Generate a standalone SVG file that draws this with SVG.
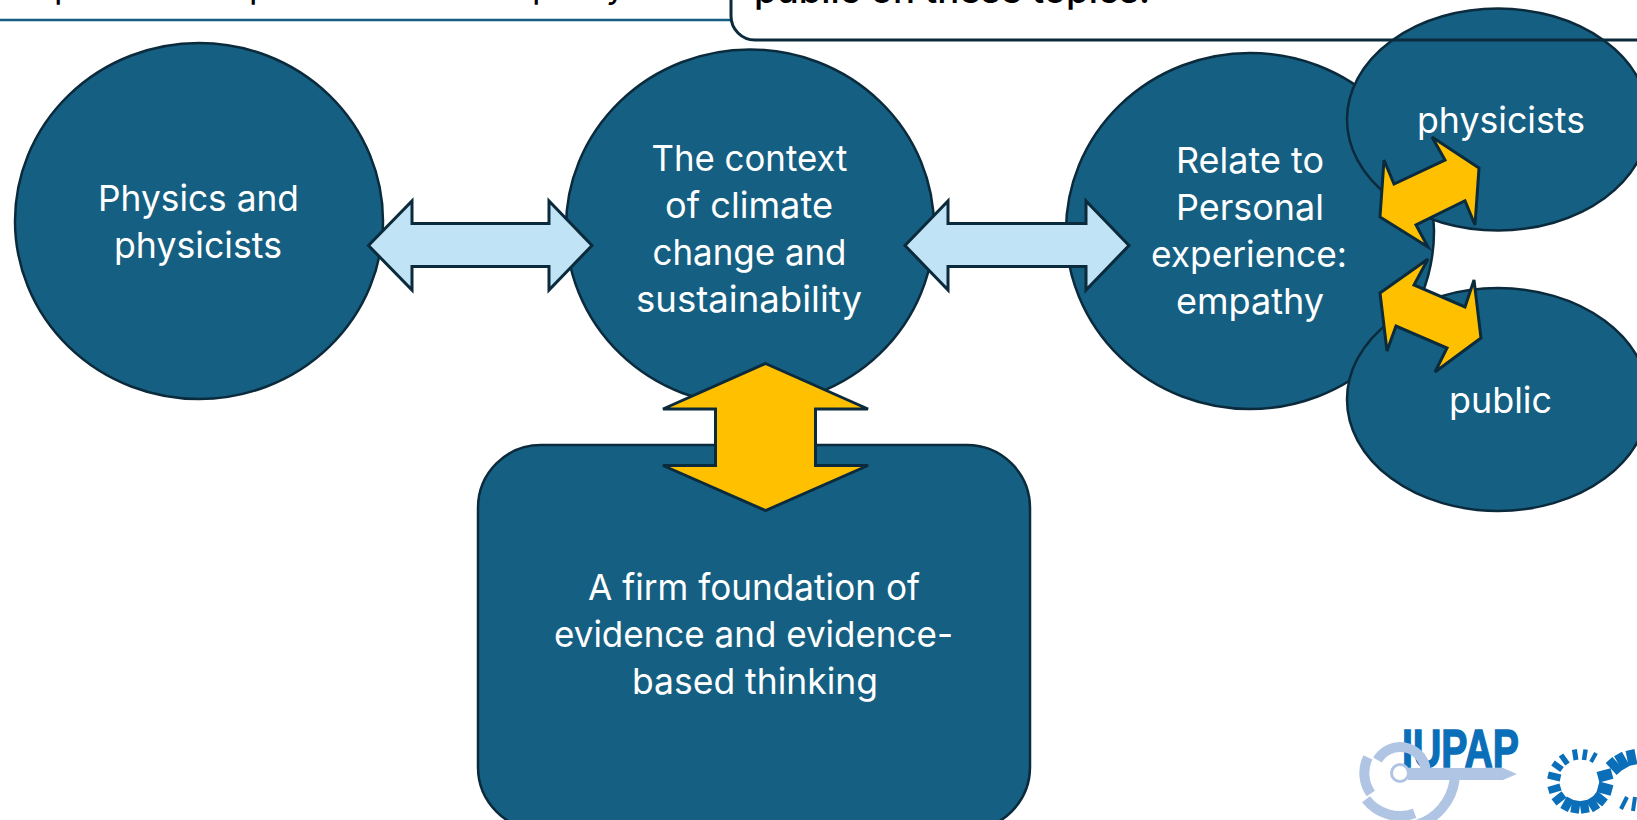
<svg xmlns="http://www.w3.org/2000/svg" width="1637" height="820" viewBox="0 0 1637 820">
<style>
.n{fill:#156082;stroke:#0b2a3c;stroke-width:2.5}
.t{font-family:"Inter","Noto Sans","Liberation Sans",sans-serif;font-size:36px;fill:#fff;text-anchor:middle;transform:translateY(1px)}
.k{font-family:"Inter","Noto Sans","Liberation Sans",sans-serif;font-size:35px;fill:#000}
.la{fill:#c0e4f5;stroke:#0b2a3c;stroke-width:3;stroke-linejoin:miter}
.ga{fill:#ffc000;stroke:#0b2a3c;stroke-width:3;stroke-linejoin:miter}
.gr{fill:none;stroke:#b0c4e4;stroke-width:10}
.bt{stroke:#0a6eb8;fill:none}
</style>
<rect width="1637" height="820" fill="#fff"/>
<line x1="0" y1="20" x2="731" y2="20" stroke="#156082" stroke-width="2.5"/>
<g id="node-physics"><ellipse class="n" cx="199" cy="221" rx="184" ry="178"/>
<text class="t" x="198.500" y="210" textLength="201" lengthAdjust="spacingAndGlyphs">Physics and</text>
<text class="t" x="198" y="257" textLength="168" lengthAdjust="spacingAndGlyphs">physicists</text></g>
<g id="node-context"><ellipse class="n" cx="750" cy="227.500" rx="184" ry="178"/>
<text class="t" x="749.500" y="170" textLength="196" lengthAdjust="spacingAndGlyphs">The context</text>
<text class="t" x="749" y="217" textLength="168" lengthAdjust="spacingAndGlyphs">of climate</text>
<text class="t" x="749.500" y="264" textLength="194" lengthAdjust="spacingAndGlyphs">change and</text>
<text class="t" x="749" y="311" textLength="226" lengthAdjust="spacingAndGlyphs">sustainability</text></g>
<g id="node-personal"><ellipse class="n" cx="1250" cy="231" rx="184" ry="178"/>
<text class="t" x="1250" y="172" textLength="148" lengthAdjust="spacingAndGlyphs">Relate to</text>
<text class="t" x="1250" y="219" textLength="148" lengthAdjust="spacingAndGlyphs">Personal</text>
<text class="t" x="1249" y="266" textLength="196" lengthAdjust="spacingAndGlyphs">experience:</text>
<text class="t" x="1250" y="313" textLength="148" lengthAdjust="spacingAndGlyphs">empathy</text></g>
<g id="node-physicists"><ellipse class="n" cx="1498" cy="119.500" rx="151" ry="111"/>
<text class="t" x="1501" y="132" textLength="168" lengthAdjust="spacingAndGlyphs">physicists</text></g>
<g id="node-public"><ellipse class="n" cx="1498" cy="399.500" rx="151" ry="111.500"/>
<text class="t" x="1500.500" y="411.500" textLength="103" lengthAdjust="spacingAndGlyphs">public</text></g>
<g id="node-foundation"><rect class="n" x="478" y="445" width="552" height="385" rx="63" ry="63"/>
<text class="t" x="754" y="599" textLength="332" lengthAdjust="spacingAndGlyphs">A firm foundation of</text>
<text class="t" x="753.500" y="646" textLength="399" lengthAdjust="spacingAndGlyphs">evidence and evidence-</text>
<text class="t" x="755" y="693" textLength="246" lengthAdjust="spacingAndGlyphs">based thinking</text></g>
<g id="node-topbox"><path d="M731 -5V16A24 24 0 0 0 755 40H1642" fill="none" stroke="#0b2a3c" stroke-width="3"/>
<text class="k" font-weight="500" x="754" y="3" textLength="396" lengthAdjust="spacingAndGlyphs">public on these topics.</text>
<text class="k" x="54 249 532 606" y="-2">pppy</text></g>
<g id="connectors">
<polygon class="la" points="368.500,245.500 412,201 412,223.500 549,223.500 549,201 592,245.500 549,290 549,266.500 412,266.500 412,290"/>
<polygon class="la" points="905,245.500 948,201 948,223.500 1086,223.500 1086,201 1129,245.500 1086,290 1086,266.500 948,266.500 948,290"/>
<polygon class="ga" points="765.500,363.500 868,409 815.500,409 815.500,465.500 868,465.500 765.500,510.500 663,465.500 715.500,465.500 715.500,409 663,409"/>
<polygon class="ga" points="1445,160 1432,137 1479,168 1475,225 1465,200.700 1416,225 1428,247 1380,217 1384,160 1394,184"/>
<polygon class="ga" points="1428,259 1414,285 1465,307 1474,280 1481,338 1435,372 1447,348 1396,326 1387,351 1380,293"/>
</g>
<g id="logo-iupap">
<text x="1402" y="767" font-family="Liberation Sans,sans-serif" font-weight="700" font-size="54" fill="#0a6eb8" stroke="#0a6eb8" stroke-width="1.500" textLength="117" lengthAdjust="spacingAndGlyphs">IUPAP</text>
<circle cx="1400" cy="773" r="8.500" fill="#fff" stroke="#b0c4e4" stroke-width="3"/>
<polygon points="1408,768 1503,768 1517,774 1503,780 1408,780" fill="#b0c4e4"/>
<path class="gr" d="M1377.500 760A26 26 0 0 1 1425.600 768.500"/>
<path class="gr" d="M1367.900 757.400A35.700 35.700 0 0 0 1370.800 793.500"/>
<path class="gr" d="M1366 799.300A43 43 0 0 0 1414.600 813.400"/>
<path class="gr" d="M1454.600 779.600A55 55 0 0 1 1416.500 825"/>
</g>
<g id="logo-ring">
<line class="bt" x1="1591" y1="762" x2="1596" y2="753" stroke-width="4"/>
<line class="bt" x1="1584" y1="760" x2="1585.600" y2="749.500" stroke-width="4.500"/>
<line class="bt" x1="1576" y1="760" x2="1574.400" y2="749.500" stroke-width="5"/>
<line class="bt" x1="1567.500" y1="764" x2="1561" y2="755" stroke-width="5.500"/>
<line class="bt" x1="1562" y1="769.500" x2="1553" y2="763" stroke-width="6"/>
<line class="bt" x1="1560.500" y1="778" x2="1548" y2="775" stroke-width="7"/>
<line class="bt" x1="1560.500" y1="787" x2="1548.500" y2="790.500" stroke-width="7.500"/>
<line class="bt" x1="1564" y1="794.500" x2="1554" y2="802.300" stroke-width="8"/>
<line class="bt" x1="1570.500" y1="798.500" x2="1564" y2="810" stroke-width="8.500"/>
<line class="bt" x1="1576.500" y1="800.500" x2="1574.500" y2="813" stroke-width="8.500"/>
<line class="bt" x1="1583.500" y1="800.500" x2="1585.500" y2="813" stroke-width="8.500"/>
<line class="bt" x1="1589.500" y1="798.500" x2="1596.500" y2="810" stroke-width="8.500"/>
<line class="bt" x1="1594.500" y1="794.500" x2="1605" y2="803" stroke-width="9"/>
<line class="bt" x1="1598" y1="786.800" x2="1612" y2="790.500" stroke-width="11"/>
<line class="bt" x1="1598" y1="777.200" x2="1612" y2="773.500" stroke-width="11"/>
<line class="bt" x1="1609" y1="760" x2="1620" y2="772" stroke-width="9"/>
<line class="bt" x1="1618" y1="754" x2="1626" y2="768" stroke-width="9"/>
<line class="bt" x1="1630" y1="750" x2="1633" y2="765" stroke-width="9"/>
<line class="bt" x1="1627" y1="797" x2="1621" y2="809" stroke-width="4"/>
<line class="bt" x1="1635" y1="797" x2="1633" y2="811" stroke-width="4"/>
</g>
</svg>
